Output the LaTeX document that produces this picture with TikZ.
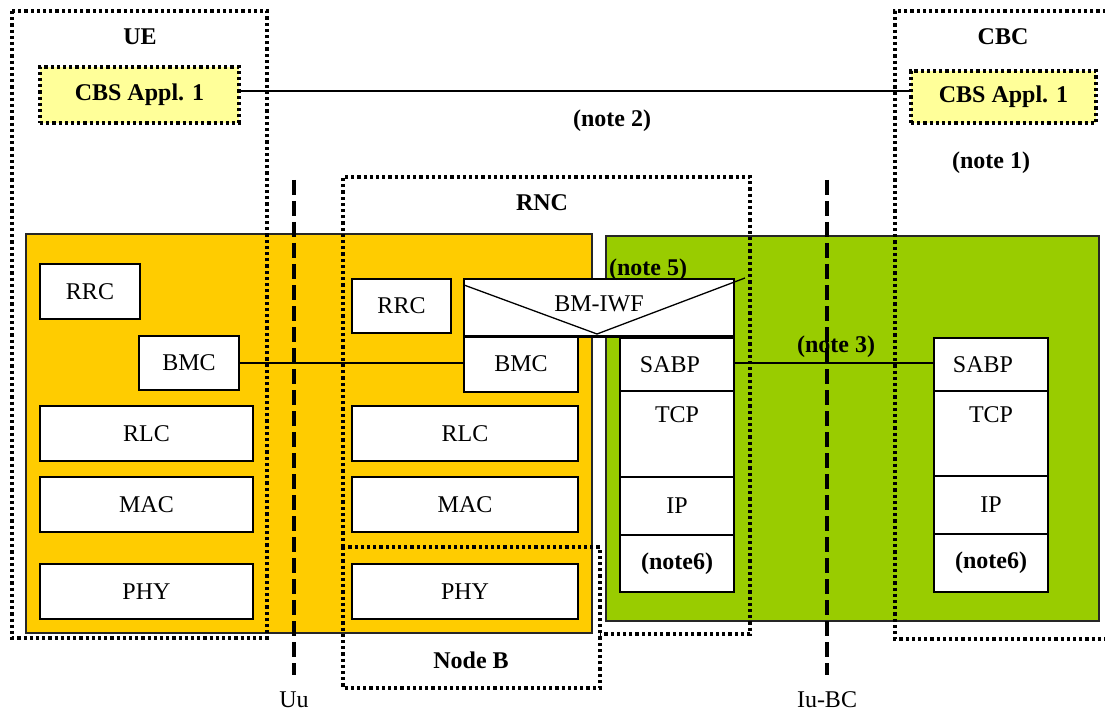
\documentclass[tikz,border=0pt]{standalone}
\usepackage{fontspec}
\setmainfont{Liberation Serif}
\definecolor{ylw}{HTML}{FFCC00}
\definecolor{grn}{HTML}{99CC00}
\definecolor{lyl}{HTML}{FFFF99}
\newcommand\fsz{\fontsize{24}{28}\selectfont}
\tikzset{
  box/.style={draw, fill=white, line width=1.5pt, inner sep=0pt, outer sep=0pt, anchor=north west, font=\fsz},
  area/.style={draw=black!85, line width=1.5pt, inner sep=0pt, outer sep=0pt, anchor=north west},
  dotline/.style={line width=3.2pt, dash pattern=on 3.2pt off 3pt},
  dotbox/.style={draw, dotline, inner sep=0pt, outer sep=0pt, anchor=north west},
  appbox/.style={dotbox, fill=lyl, font=\fsz\bfseries},
  divider/.style={line width=3.2pt, dash pattern=on 15pt off 6pt},
  lbl/.style={font=\fsz\bfseries, inner sep=0pt},
  txt/.style={font=\fsz, inner sep=0pt},
  conn/.style={line width=1.3pt}
}
\begin{document}
\begin{tikzpicture}[x=1pt, y=-1pt]
\useasboundingbox (0,0) rectangle (1105,711);
% coloured areas
\node[area, fill=ylw, minimum width=566pt, minimum height=399pt] (yarea) at (26,234) {};
\node[area, fill=grn, minimum width=493pt, minimum height=385pt] (garea) at (606,236) {};
% UE stack
\node[box, minimum width=100pt, minimum height=55pt] (rrc1) at (40,264) {RRC};
\node[box, minimum width=100pt, minimum height=54pt] (bmc1) at (139,336) {BMC};
\node[box, minimum width=213pt, minimum height=55pt] (rlc1) at (40,406) {RLC};
\node[box, minimum width=213pt, minimum height=55pt] (mac1) at (40,477) {MAC};
\node[box, minimum width=213pt, minimum height=55pt] (phy1) at (40,564) {PHY};
% RNC / Node B stack
\node[box, minimum width=99pt, minimum height=54pt] (rrc2) at (352,279) {RRC};
\node[box, minimum width=114pt, minimum height=56pt] (bmc2) at (464,336) {BMC};
\node[box, minimum width=226pt, minimum height=55pt] (rlc2) at (352,406) {RLC};
\node[box, minimum width=226pt, minimum height=55pt] (mac2) at (352,477) {MAC};
\node[box, minimum width=226pt, minimum height=55pt] (phy2) at (352,564) {PHY};
% RNC SABP stack
\node[box, minimum width=114pt, minimum height=53pt] (sabp2) at (620,338) {};
\node[box, minimum width=114pt, minimum height=86pt] (tcp2) at (620,391) {};
\node[box, minimum width=114pt, minimum height=58pt] (ip2) at (620,477) {IP};
\node[box, minimum width=114pt, minimum height=57pt, font=\fsz\bfseries] (n6a) at (620,535) {(note6)};
\node[txt] at ([xshift=-7pt]sabp2.center) {SABP};
\node[txt] at ([yshift=-24pt]tcp2.north) {TCP};
% CBC stack
\node[box, minimum width=114pt, minimum height=53pt] (sabp3) at (934,338) {};
\node[box, minimum width=114pt, minimum height=85pt] (tcp3) at (934,391) {};
\node[box, minimum width=114pt, minimum height=58pt] (ip3) at (934,476) {IP};
\node[box, minimum width=114pt, minimum height=58pt, font=\fsz\bfseries] (n6b) at (934,534) {(note6)};
\node[txt] at ([xshift=-8pt]sabp3.center) {SABP};
\node[txt] at ([yshift=-24pt]tcp3.north) {TCP};
% BM-IWF
\node[box, minimum width=270pt, minimum height=57pt] (iwf) at (464,279) {};
\node[txt] at ([yshift=4pt]iwf.center) {BM-IWF};
\draw[line width=3pt] (iwf.south west) -- (iwf.south east);
\coordinate (vtip) at (597,334);
\coordinate (vright) at (745,278);
\draw[conn] ([yshift=-6pt]iwf.north west) -- (vtip) -- (vright);
% application boxes
\node[appbox, minimum width=199pt, minimum height=56pt] (app1) at (40,67) {CBS Appl. 1};
\node[appbox, minimum width=185pt, minimum height=52pt] (app2) at (911,71) {CBS Appl. 1};
% connectors
\draw[conn] (app1.east |- 0,91) -- (app2.west |- 0,91);
\draw[conn] (bmc1.east |- 0,363) -- (bmc2.west |- 0,363);
\draw[conn] (sabp2.east |- 0,363) -- (sabp3.west |- 0,363);
% labels
\node[lbl] (uelbl) at (140,37) {UE};
\node[lbl] (cbclbl) at (1003,37) {CBC};
\node[lbl] (note1) at (991,163) {(note 1)};
\node[lbl] (note2) at (612,121) {(note 2)};
\node[lbl] (rnclbl) at (542,203) {RNC};
\node[lbl] (note5) at (648,270) {(note 5)};
\node[lbl] (note3) at (836,347) {(note 3)};
\node[lbl] (nodeblbl) at (471,660) {Node B};
\node[txt] (uulbl) at (294,700) {Uu};
\node[txt] (iulbl) at (827,700) {Iu-BC};
% dotted groups
\draw[dotline] (12,11) rectangle (267,638);
\draw[dotline] (1112,11) -- (895,11) -- (895,639) -- (1112,639);
\draw[dotline] (343,547) -- (343,177) -- (750,177) -- (750,634) -- (600,634);
\draw[dotline] (343,547) rectangle (600,688);
% interfaces
\coordinate (uutop) at (294,180);
\coordinate (iutop) at (827,180);
\draw[divider] (uutop) -- (uulbl.north |- 0,675);
\draw[divider] (iutop) -- (iulbl.north |- 0,675);
\end{tikzpicture}
\end{document}
